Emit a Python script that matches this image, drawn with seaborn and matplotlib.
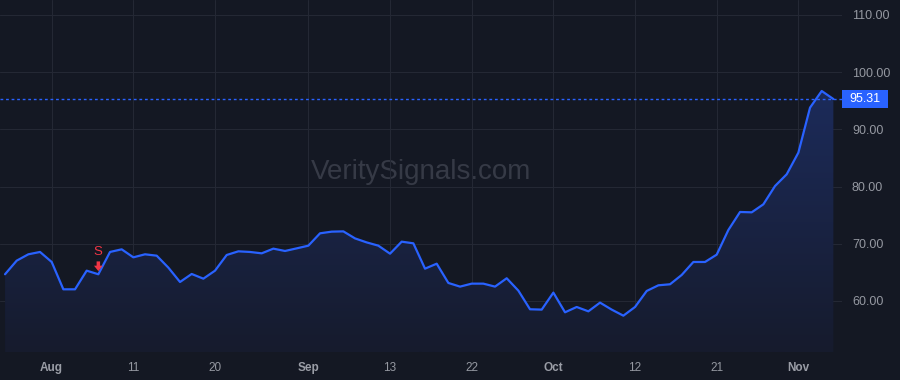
import numpy as np
import pandas as pd
import matplotlib
matplotlib.use("Agg")
import matplotlib.pyplot as plt
import matplotlib.transforms as mtransforms
from matplotlib.patches import Rectangle
import seaborn as sns

# ---- data ----
values = [64.67, 67.05, 68.16, 68.57, 66.82, 62.04, 62.04, 65.30, 64.67, 68.57,
          69.03, 67.63, 68.16, 67.92, 65.83, 63.32, 64.72, 63.90, 65.30, 68.04,
          68.68, 68.57, 68.33, 69.15, 68.74, 69.20, 69.67, 71.83, 72.12, 72.17,
          70.94, 70.24, 69.67, 68.27, 70.37, 70.08, 65.65, 66.52, 63.15, 62.51,
          63.03, 63.03, 62.51, 63.97, 61.81, 58.55, 58.49, 61.46, 58.02, 58.95,
          58.19, 59.71, 58.49, 57.43, 58.95, 61.75, 62.74, 62.92, 64.55, 66.82,
          66.82, 68.10, 72.41, 75.56, 75.50, 76.90, 80.10, 82.15, 85.93, 93.80,
          96.71, 95.31]
tick_index = [4, 11, 18, 26, 33, 40, 47, 54, 61, 68]
tick_labels = ["Aug", "11", "20", "Sep", "13", "22", "Oct", "12", "21", "Nov"]
month_labels = ["Aug", "Sep", "Oct", "Nov"]
y_ticks = [60, 70, 80, 90, 100, 110]
signal_index = 8
signal_label = "S"
last_price = values[-1]
watermark = "VeritySignals.com"

df = pd.DataFrame({"idx": np.arange(len(values)), "price": values})

# ---- style ----
BG = "#141823"
GRID = "#242834"
LINE = "#2962ff"
TXT = "#9598a1"
RED = "#f23645"

sns.set_theme(style="dark")
plt.rcParams["font.family"] = ["Liberation Sans", "DejaVu Sans"]

fig = plt.figure(figsize=(9, 3.8), dpi=100, facecolor=BG)
ax = fig.add_axes([0.0, 28 / 380, 842 / 900, 352 / 380])
ax.set_facecolor(BG)

ax.set_xlim(-0.43, 71.74)
ax.set_ylim(51.08, 112.62)

# gradient fill under the line
x = df["idx"].to_numpy()
y = df["price"].to_numpy()
poly = ax.fill_between(x, y, 51.08, color="none", lw=0)
grad = np.linspace(0.0, 1.0, 256).reshape(-1, 1)
cmap = matplotlib.colors.LinearSegmentedColormap.from_list(
    "g", [(0, "#161b2d"), (1, "#1c2b5a")])
img = ax.imshow(grad, extent=[x.min(), x.max(), 51.08, max(values)], origin="lower",
                aspect="auto", cmap=cmap, zorder=1)
img.set_clip_path(poly.get_paths()[0], transform=ax.transData)

sns.lineplot(data=df, x="idx", y="price", ax=ax, color=LINE, lw=1.6, zorder=3)

# last price dotted line + label box
ax.axhline(last_price, color=LINE, lw=1.0, ls=(0, (2, 2)), zorder=2)
blend = mtransforms.blended_transform_factory(ax.transAxes, ax.transData)
box_h = 18 / 5.72
rect = Rectangle((1.0, last_price - box_h / 2), 46 / 842, box_h, transform=blend,
                 facecolor=LINE, edgecolor="none", clip_on=False, zorder=5)
ax.add_patch(rect)
ax.text(1.0 + 23 / 842, last_price, f"{last_price:.2f}", transform=blend,
        ha="center", va="center", color="white", fontsize=9, clip_on=False, zorder=6)

# signal marker (down arrow + label)
sv = values[signal_index]
ax.arrow(signal_index, sv + 2.25, 0, -1.7, width=0.3, head_width=0.75,
         head_length=0.95, length_includes_head=True, color=RED, lw=0, zorder=4)
ax.text(signal_index, sv + 3.9, signal_label, color=RED, fontsize=9.5,
        ha="center", va="center", zorder=4)

# watermark
ax.text(0.5, 0.51, watermark, transform=ax.transAxes, ha="center", va="center",
        fontsize=20, color="#363a46", zorder=0.5)

# axes, ticks, grid
ax.set_xticks(tick_index)
ax.set_xticklabels(tick_labels)
ax.set_yticks(y_ticks)
ax.set_yticklabels([f"{v:.2f}" for v in y_ticks])
ax.yaxis.tick_right()
ax.tick_params(axis="y", length=0, pad=7.2, labelsize=9, labelcolor=TXT)
ax.tick_params(axis="x", length=0, pad=7, labelsize=8.5, labelcolor=TXT)
for lab in ax.get_yticklabels():
    lab.set_horizontalalignment("left")
for lab in ax.get_xticklabels():
    if lab.get_text() in month_labels:
        lab.set_fontweight("bold")
        lab.set_color("#9a9da6")
ax.grid(True, color=GRID, lw=0.8, zorder=0)
ax.set_axisbelow(True)
ax.set_xlabel("")
ax.set_ylabel("")
for s in ax.spines.values():
    s.set_visible(False)

fig.savefig("out.png", dpi=100, facecolor=BG)
